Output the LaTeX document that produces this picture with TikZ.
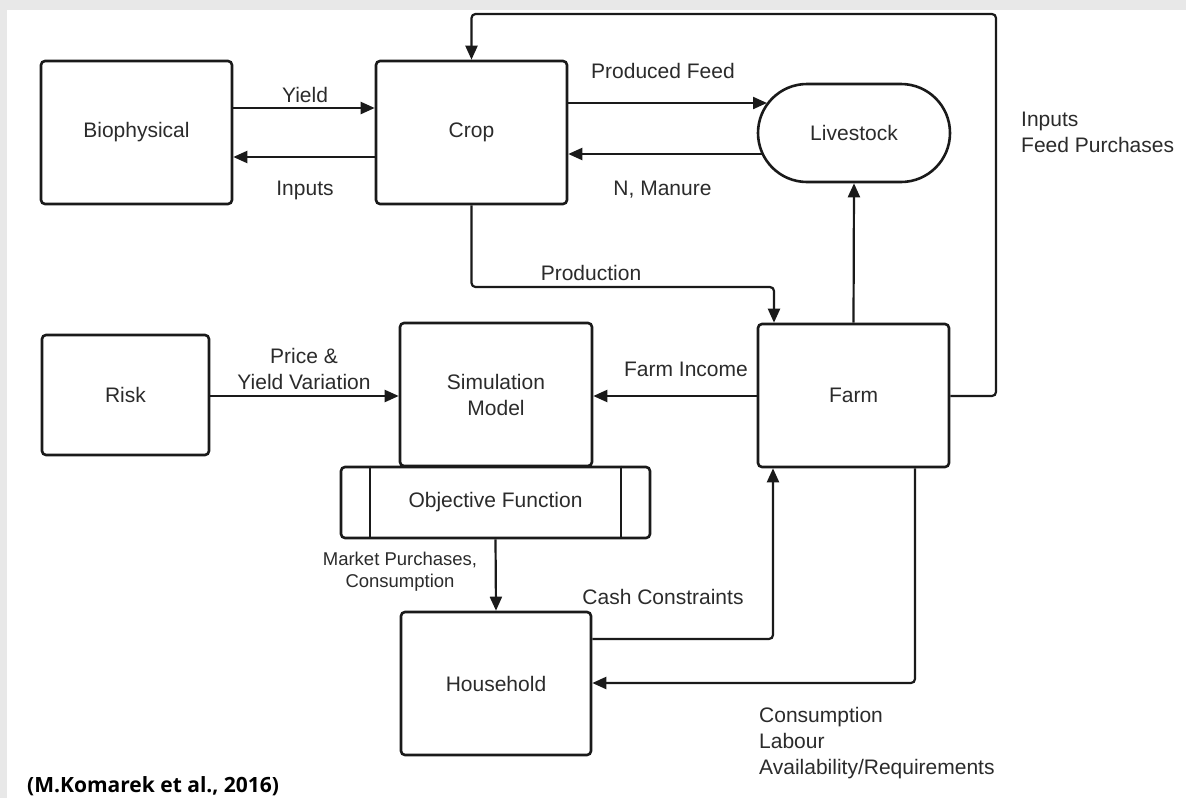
\documentclass[tikz,border=0pt]{standalone}
\usepackage{fontspec}
\setmainfont{Liberation Sans}
\newfontfamily\citefont{Open Sans}
\usetikzlibrary{arrows.meta,shapes.misc}
\definecolor{linec}{HTML}{1A1A1A}
\definecolor{textc}{HTML}{2B2B2B}
\definecolor{bgframe}{HTML}{E8E8E8}
\tikzset{
  box/.style={draw=linec, line width=2.6pt, rounded corners=4pt, fill=white, text=textc,
    font=\fontsize{21}{26}\selectfont, align=center, inner sep=0pt},
  conn/.style={draw=linec, line width=2.2pt, rounded corners=4pt, -{Triangle[length=14pt,width=12pt]}},
  lab/.style={text=textc, font=\fontsize{21}{26}\selectfont, inner sep=0pt},
  smalllab/.style={text=textc, font=\fontsize{18.5}{22}\selectfont, inner sep=0pt, align=center}
}
\begin{document}
\begin{tikzpicture}[x=1pt,y=-1pt]
\useasboundingbox (0,0) rectangle (1186,798);
\fill[bgframe] (0,0) rectangle (1186,798);
\fill[white] (7,10) rectangle (1186,798);

% nodes
\node[box, minimum width=191pt, minimum height=143pt] (bio) at (136.5,132.5) {Biophysical};
\node[box, minimum width=191pt, minimum height=143pt] (crop) at (471.5,132.5) {Crop};
\node[draw=linec, line width=2.6pt, rounded rectangle, fill=white, text=textc,
      font=\fontsize{21}{26}\selectfont, inner sep=0pt,
      minimum width=192pt, minimum height=98pt] (live) at (854,133) {Livestock};
\node[box, minimum width=167pt, minimum height=120pt] (risk) at (125.5,395) {Risk};
\node[box, minimum width=192pt, minimum height=143pt] (sim) at (496,394.5) {Simulation\\Model};
\node[box, minimum width=309pt, minimum height=71pt] (obj) at (495.5,502.5) {Objective Function};
\draw[line width=2pt, draw=linec] ([xshift=30pt]obj.north west) -- ([xshift=30pt]obj.south west);
\draw[line width=2pt, draw=linec] ([xshift=-30pt]obj.north east) -- ([xshift=-30pt]obj.south east);
\node[box, minimum width=191pt, minimum height=143pt] (farm) at (853.5,395.5) {Farm};
\node[box, minimum width=190pt, minimum height=143pt] (hh) at (496,683.5) {Household};

% helper coordinates
\coordinate (pfin) at (767,103);
\coordinate (nmout) at (762.7,154);
\coordinate (topR) at (996,14);
\coordinate (prodA) at (471.5,287);
\coordinate (prodB) at (774,287);

% connectors
\draw[conn] (bio.east |- 0,108) -- (crop.west |- 0,108);
\draw[conn] (crop.west |- 0,157) -- (bio.east |- 0,157);
\draw[conn] (crop.east |- pfin) -- (pfin);
\draw[conn] (nmout) -- (crop.east |- nmout);
\draw[conn] (farm.east |- 0,396) -| (topR) -| (crop.north);
\draw[conn] (crop.south) -- (prodA) -- (prodB) -- (farm.north -| prodB);
\draw[conn] (farm.north) -- (live.south);
\draw[conn] (farm.west |- 0,396) -- (sim.east |- 0,396);
\draw[conn] (risk.east |- 0,396) -- (sim.west |- 0,396);
\draw[conn] (obj.south) -- (hh.north);
\draw[conn] (hh.east |- 0,639) -| (farm.south -| 773,0);
\draw[conn] (farm.south -| 915,0) |- (hh.east |- 0,683);

% labels
\node[lab] (lyield) at (305,95) {Yield};
\node[lab] (linputs) at (305,190) {Inputs};
\node[lab] (lpf) at (663,71) {Produced Feed};
\node[lab] (lnm) at (662.5,190) {N, Manure};
\node[lab] (lprod) at (591,273) {Production};
\node[lab, align=left, anchor=west] (lfp) at (1021,132) {Inputs\\Feed Purchases};
\node[lab, align=center] (lprice) at (304,369) {Price \&\\Yield Variation};
\node[lab] (lfi) at (686,369) {Farm Income};
\node[smalllab] (lmp) at (400,572) {Market Purchases,\\Consumption};
\node[lab] (lcash) at (663,597) {Cash Constraints};
\node[lab, align=left, anchor=west] (lcons) at (759,743.5) {Consumption\\Labour\\Availability/Requirements};

% citation
\node[anchor=base west, inner sep=0pt, text=black,
      font=\citefont\bfseries\fontsize{21}{25}\selectfont] (cite) at (27,792) {(M.Komarek et al., 2016)};
\end{tikzpicture}
\end{document}
